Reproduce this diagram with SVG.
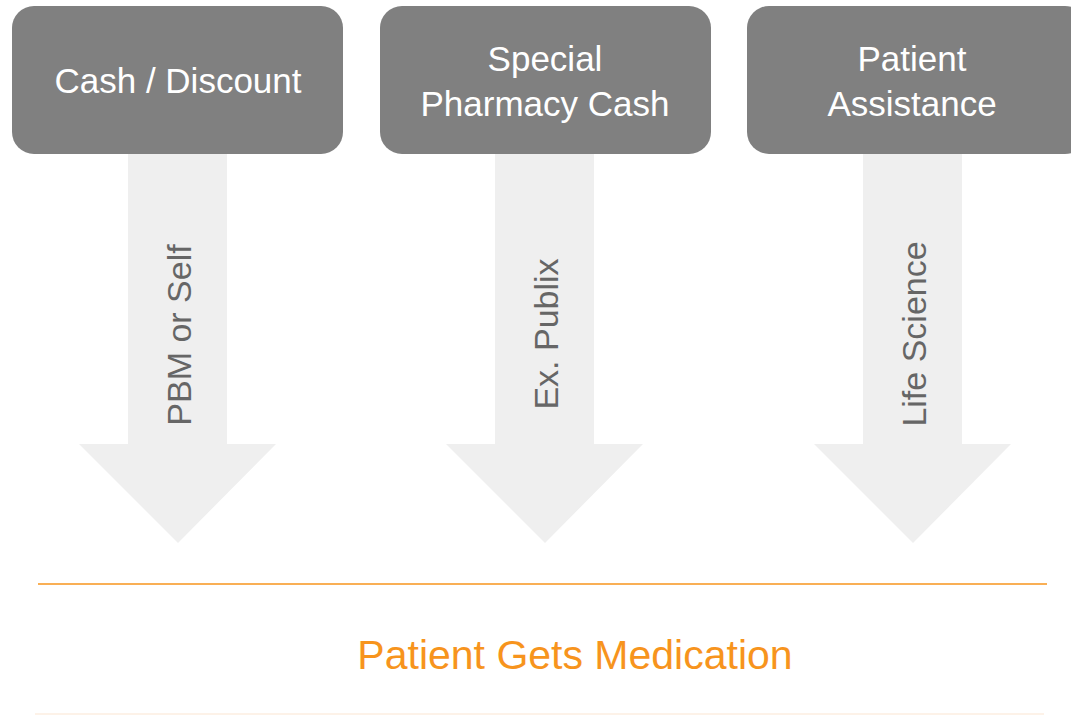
<svg xmlns="http://www.w3.org/2000/svg" width="1071" height="715" viewBox="0 0 1071 715">
<style>
.box{fill:#808080}
.arrow{fill:#efefef}
.bt{font-family:"Liberation Sans",Arial,sans-serif;font-size:35px;fill:#ffffff;text-anchor:middle}
.at{font-family:"Liberation Sans",Arial,sans-serif;font-size:34px;fill:#666666;text-anchor:middle}
.ot{font-family:"Liberation Sans",Arial,sans-serif;font-size:41px;fill:#f7941d;text-anchor:middle}
</style>
<rect width="1071" height="715" fill="#ffffff"/>
<g id="connectors">
<g id="arrow1"><polygon class="arrow" points="128,150 227,150 227,444 276,444 178,543 79,444 128,444"/>
<text class="at" transform="translate(191,335) rotate(-90)">PBM or Self</text></g>
<g id="arrow2"><polygon class="arrow" points="495,150 594,150 594,444 643,444 545,543 446,444 495,444"/>
<text class="at" transform="translate(558,334) rotate(-90)">Ex. Publix</text></g>
<g id="arrow3"><polygon class="arrow" points="863,150 962,150 962,444 1011,444 913,543 814,444 863,444"/>
<text class="at" transform="translate(926,334) rotate(-90)">Life Science</text></g>
</g>
<g id="node1"><rect class="box" x="12" y="6" width="331" height="148" rx="22"/>
<text class="bt" x="178" y="93">Cash / Discount</text></g>
<g id="node2"><rect class="box" x="380" y="6" width="331" height="148" rx="22"/>
<text class="bt" x="545" y="71">Special</text><text class="bt" x="545" y="116">Pharmacy Cash</text></g>
<g id="node3"><rect class="box" x="747" y="6" width="340" height="148" rx="22"/>
<text class="bt" x="912" y="71">Patient</text><text class="bt" x="912" y="116">Assistance</text></g>
<g id="result">
<line x1="38" y1="584" x2="1047" y2="584" stroke="#f7941d" stroke-width="1.5"/>
<text class="ot" x="575" y="669">Patient Gets Medication</text>
<line x1="35" y1="714" x2="1044" y2="714" stroke="#fdeee0" stroke-width="1.5"/>
</g>
</svg>
